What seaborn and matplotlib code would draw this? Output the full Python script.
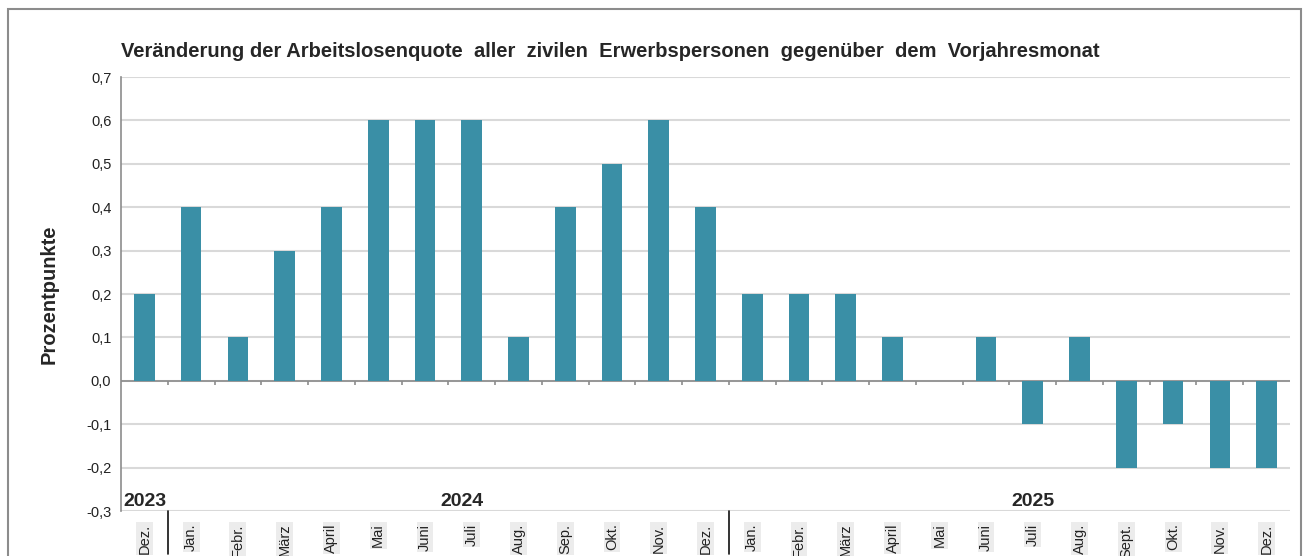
import matplotlib
matplotlib.use('Agg')
import matplotlib.pyplot as plt
import seaborn as sns
import pandas as pd
from matplotlib.patches import Rectangle

# Data
months = ['Dez.',
          'Jan.', 'Febr.', 'März', 'April', 'Mai', 'Juni', 'Juli', 'Aug.', 'Sep.', 'Okt.', 'Nov.', 'Dez.',
          'Jan.', 'Febr.', 'März', 'April', 'Mai', 'Juni', 'Juli', 'Aug.', 'Sept.', 'Okt.', 'Nov.', 'Dez.']
change = [0.2,
          0.4, 0.1, 0.3, 0.4, 0.6, 0.6, 0.6, 0.1, 0.4, 0.5, 0.6, 0.4,
          0.2, 0.2, 0.2, 0.1, 0.0, 0.1, -0.1, 0.1, -0.2, -0.1, -0.2, -0.2]
years = ['2023', '2024', '2025']
year_pos = [-0.45, 6.8, 19.0]
year_sep = [0.5, 12.5]
yticks = [-0.3, -0.2, -0.1, 0.0, 0.1, 0.2, 0.3, 0.4, 0.5, 0.6, 0.7]

df = pd.DataFrame({'idx': range(len(change)), 'wert': change})

sns.set_style('white')
plt.rcParams['font.family'] = ['Liberation Sans', 'DejaVu Sans']

fig = plt.figure(figsize=(13.06, 5.56), dpi=100)
ax = fig.add_axes([0.0927, 0.0809, 0.8950, 0.7806])

# outer frame
fig.patches.append(Rectangle((0.006, -0.05), 0.990, 1.034, transform=fig.transFigure,
                             fill=False, edgecolor='#8c8c8c', linewidth=1.5))

sns.barplot(data=df, x='idx', y='wert', color='#3a8fa6', saturation=1, width=0.44,
            linewidth=0, ax=ax, zorder=3)

ax.set_ylim(-0.3, 0.7)
ax.set_xlim(-0.5, len(change) - 0.5)
ax.set_yticks(yticks)
ax.set_yticklabels([f'{v:.1f}'.replace('.', ',') for v in yticks], fontsize=10.5, color='#222222')
ax.yaxis.grid(True, color='#d9d9d9', linewidth=1.5, zorder=0)
ax.set_axisbelow(True)
for s in ['top', 'right', 'bottom']:
    ax.spines[s].set_visible(False)
ax.spines['left'].set_color('#8c8c8c')
ax.spines['left'].set_linewidth(1.2)
ax.tick_params(axis='y', length=4, color='#8c8c8c', width=1.2, pad=3)

# zero line with small ticks
ax.axhline(0, color='#8c8c8c', linewidth=1.2, zorder=2)
ax.vlines([i + 0.5 for i in range(len(change) - 1)], -0.01, 0, color='#8c8c8c', linewidth=1.2, zorder=2)

ax.set_xticks(range(len(months)))
ax.set_xticklabels(months, rotation=90, fontsize=10.5, color='#222222')
ax.tick_params(axis='x', length=0, pad=9)
for lab in ax.get_xticklabels():
    lab.set_bbox(dict(facecolor='#ececec', edgecolor='none', pad=1))
ax.set_xlabel('')

# year separators below axis
for s in year_sep:
    ax.plot([s, s], [-0.3, -0.4], color='#111111', linewidth=1.2, clip_on=False)
for y, p in zip(years, year_pos):
    ax.text(p, -0.297, y, fontsize=14, fontweight='bold', ha='left' if y == '2023' else 'center',
            va='bottom', zorder=4)

ax.set_ylabel('Prozentpunkte', fontsize=14.5, fontweight='bold', labelpad=20)
fig.text(0.0927, 0.907, 'Veränderung der Arbeitslosenquote  aller  zivilen  Erwerbspersonen  gegenüber  dem  Vorjahresmonat',
         fontsize=14.5, fontweight='bold', ha='left', va='center')

fig.savefig('out.png', dpi=100)
